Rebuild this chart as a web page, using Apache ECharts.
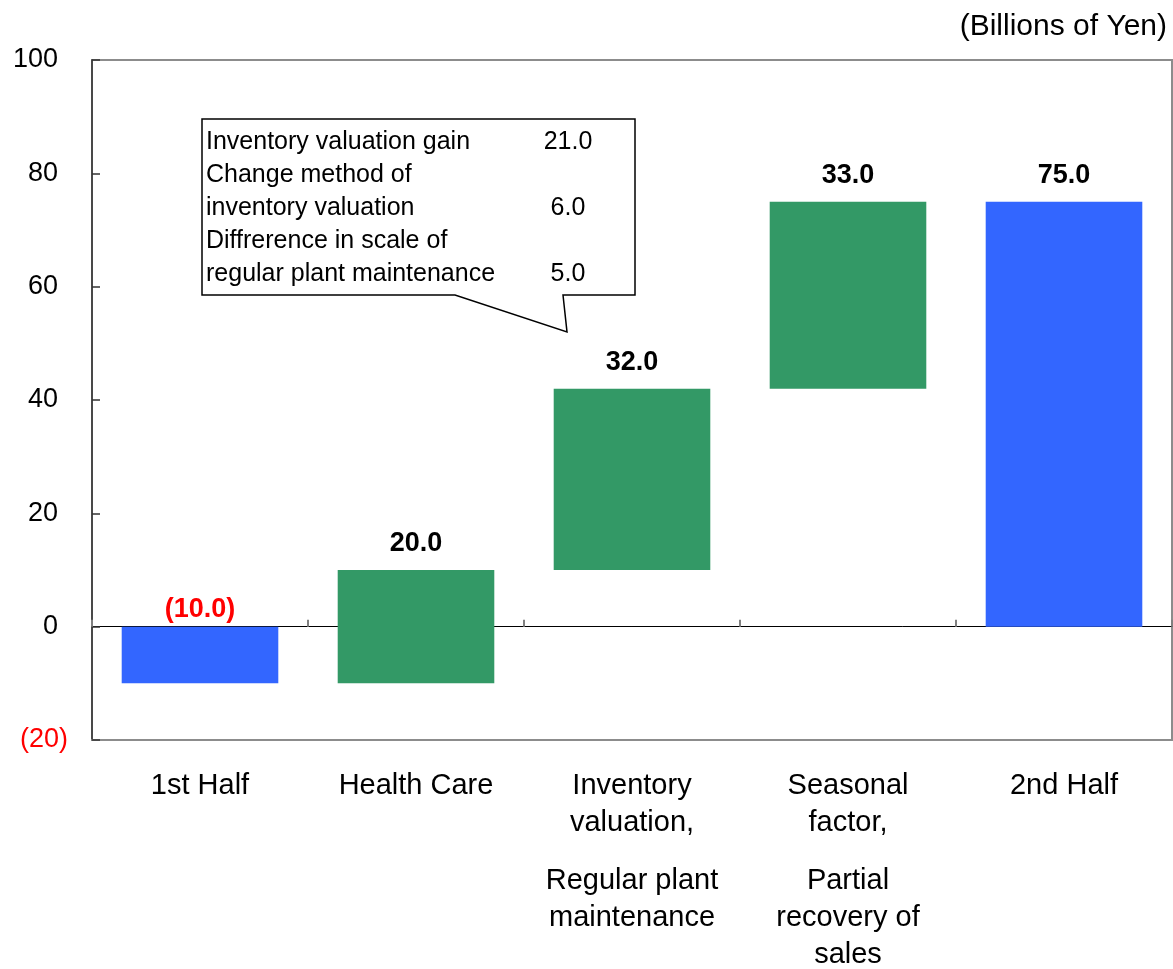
<!DOCTYPE html>
<html>
<head>
<meta charset="utf-8">
<script src="https://cdn.jsdelivr.net/npm/echarts@6/dist/echarts.min.js"></script>
<style>
html,body{margin:0;padding:0;background:#fff;}
#chart{width:1173px;height:969px;}
</style>
</head>
<body>
<div id="chart"></div>
<script>
// ---- data ----
var categories = ['1st Half', 'Health Care', 'Inventory\nvaluation,\n{g| }\nRegular plant\nmaintenance', 'Seasonal\nfactor,\n{g| }\nPartial\nrecovery of\nsales', '2nd Half'];
var kinds = ['total', 'delta', 'delta', 'delta', 'total'];
var values = [-10.0, 20.0, 32.0, 33.0, 75.0];
var yTicks = [-20, 0, 20, 40, 60, 80, 100];
var unitLabel = '(Billions of Yen)';
var calloutLabels = ['Inventory valuation gain', 'Change method of', 'inventory valuation', 'Diffrerence in scale of', 'regular plant maintenance'];
var calloutValues = ['21.0', '', '6.0', '', '5.0'];

// ---- waterfall bases ----
var bases = [];
var running = 0;
for (var i = 0; i < values.length; i++) {
  if (kinds[i] === 'total') { bases.push(0); running = values[i]; }
  else { bases.push(running); running += values[i]; }
}

var BLUE = '#3366FF', GREEN = '#339966';
var FONT = 'Liberation Sans, Arial, sans-serif';

function fmt(v) {
  return v < 0 ? '(' + (-v).toFixed(1) + ')' : v.toFixed(1);
}

var chart = echarts.init(document.getElementById('chart'));

var calloutGraphics = [{
  type: 'polygon',
  shape: { points: [[202,119],[635,119],[635,295],[563,295],[567,332],[455,295],[202,295]] },
  style: { fill: '#fff', stroke: '#000', lineWidth: 1.5 },
  z: 100
}];
for (var k = 0; k < calloutLabels.length; k++) {
  calloutGraphics.push({
    type: 'text', x: 206, y: 142 + 33 * k, z: 101,
    style: { text: calloutLabels[k], font: '25px ' + FONT, fill: '#000', verticalAlign: 'middle' }
  });
  if (calloutValues[k]) {
    calloutGraphics.push({
      type: 'text', x: 568, y: 142 + 33 * k, z: 101,
      style: { text: calloutValues[k], font: '25px ' + FONT, fill: '#000', align: 'center', verticalAlign: 'middle' }
    });
  }
}
calloutGraphics.push({
  type: 'text', x: 1167, y: 27, z: 101,
  style: { text: unitLabel, font: '30px ' + FONT, fill: '#000', align: 'right', verticalAlign: 'middle' }
});

var option = {
  animation: false,
  backgroundColor: '#fff',
  grid: {
    left: 92, right: 1, top: 60, bottom: 229, containLabel: false, outerBoundsMode: 'none',
    show: true, borderColor: '#8c8c8c', borderWidth: 2, backgroundColor: 'transparent'
  },
  xAxis: [{
    type: 'category', data: categories, position: 'bottom',
    axisLine: { onZero: false, show: true, lineStyle: { color: '#8c8c8c', width: 2 } },
    axisTick: { show: false },
    axisLabel: {
      interval: 0, margin: 27, color: '#000', fontSize: 29, fontFamily: FONT, lineHeight: 37,
      rich: { g: { lineHeight: 21, fontSize: 10 } }
    },
    splitLine: { show: false }
  }, {
    type: 'category', data: categories, position: 'bottom',
    axisLine: { onZero: true, show: true, lineStyle: { color: '#000', width: 1 } },
    axisTick: { show: true, inside: true, length: 7, lineStyle: { color: '#808080', width: 2 } },
    axisLabel: { show: false },
    splitLine: { show: false }
  }],
  yAxis: {
    type: 'value', min: yTicks[0], max: yTicks[yTicks.length - 1], interval: 20,
    axisLine: { show: true, lineStyle: { color: '#333', width: 1.5 } },
    axisTick: { show: true, inside: true, length: 8, lineStyle: { color: '#333', width: 1.5 } },
    splitLine: { show: false },
    axisLabel: {
      margin: 24, fontSize: 27, fontFamily: FONT, color: '#000',
      formatter: function (v) { return v < 0 ? '{neg|(' + (-v) + ')}' : '{pos|' + v + '}'; },
      rich: {
        neg: { color: '#ff0000', fontSize: 27, fontFamily: FONT },
        pos: { color: '#000', fontSize: 27, fontFamily: FONT, padding: [0, 10, 0, 0] }
      }
    }
  },
  series: [{
    type: 'bar', stack: 'w', stackStrategy: 'all', data: bases,
    itemStyle: { color: 'transparent' }, barWidth: '72.5%', silent: true
  }, {
    type: 'bar', stack: 'w', stackStrategy: 'all', barWidth: '72.5%',
    data: values.map(function (v, i) {
      return {
        value: v,
        itemStyle: { color: kinds[i] === 'total' ? BLUE : GREEN },
        label: { color: v < 0 ? '#ff0000' : '#000', distance: v < 0 ? 4 : 13 }
      };
    }),
    label: {
      show: true, position: 'top', distance: 13,
      fontSize: 27, fontWeight: 'bold', fontFamily: FONT,
      formatter: function (p) { return fmt(p.value); }
    }
  }],
  graphic: calloutGraphics
};
chart.setOption(option);
</script>
</body>
</html>
